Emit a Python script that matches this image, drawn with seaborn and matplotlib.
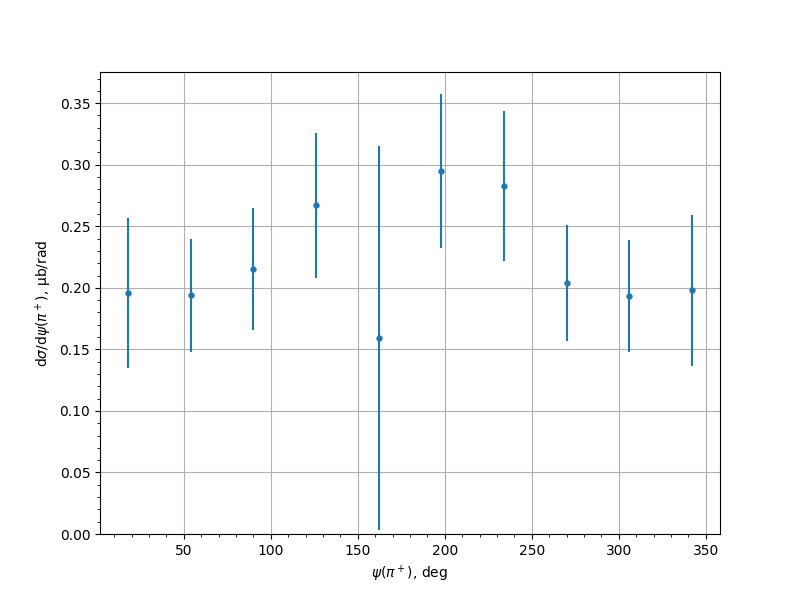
import numpy as np
import pandas as pd
import matplotlib
matplotlib.use("Agg")
import matplotlib.pyplot as plt
import seaborn as sns

# psi(pi+) bin centres, deg
psi = [18, 54, 90, 126, 162, 198, 234, 270, 306, 342]
# dsigma/dpsi, mub/rad
xsec = [0.196, 0.194, 0.215, 0.267, 0.159, 0.295, 0.283, 0.204, 0.193, 0.198]
# errors
err = [0.061, 0.046, 0.0495, 0.0587, 0.156, 0.0626, 0.061, 0.047, 0.0455, 0.0614]

df = pd.DataFrame({"psi": psi, "xsec": xsec, "err": err})

fig, ax = plt.subplots(figsize=(8, 6), dpi=100)

ax.errorbar(df["psi"], df["xsec"], yerr=df["err"], fmt="none",
            ecolor="#1f77b4", elinewidth=1.5)
sns.scatterplot(data=df, x="psi", y="xsec", ax=ax, color="#1f77b4",
                s=16, linewidth=0.5, edgecolor="#1f77b4", zorder=3)

ax.set_ylim(bottom=0)
ax.minorticks_on()
ax.grid(True, which="major")
ax.set_axisbelow(True)
ax.set_xlabel(r"$\psi(\pi^+)$, deg")
ax.set_ylabel(r"d$\sigma$/d$\psi(\pi^+)$, µb/rad")

plt.savefig("out.png", dpi=100)
